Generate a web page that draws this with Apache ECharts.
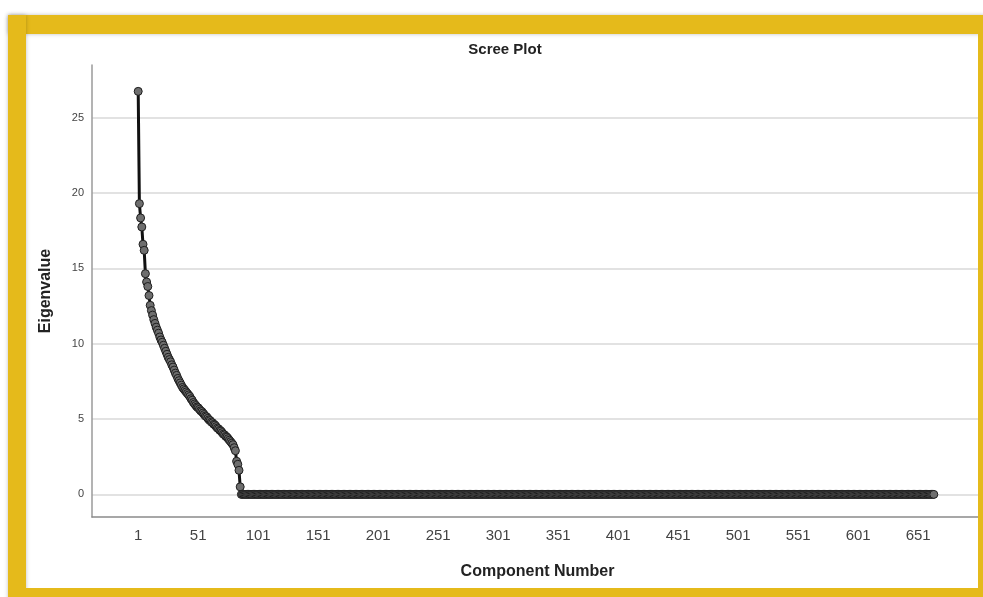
<!DOCTYPE html>
<html>
<head>
<meta charset="utf-8">
<script src="https://cdn.jsdelivr.net/npm/echarts@6/dist/echarts.min.js"></script>
<style>
html,body{margin:0;padding:0;background:#fff;}
#chart{width:983px;height:597px;}
</style>
</head>
<body>
<div id="chart"></div>
<script>
// Eigenvalues for components 1..86
const leadingEigenvalues = [
  26.75, 19.3, 18.35, 17.75, 16.6, 16.2, 14.65, 14.1, 13.8, 13.2,
  12.55, 12.2, 11.9, 11.6, 11.35, 11.1, 10.9, 10.7, 10.45, 10.25,
  10.1, 9.9, 9.7, 9.5, 9.3, 9.1, 8.95, 8.8, 8.6, 8.45,
  8.25, 8.05, 7.9, 7.7, 7.55, 7.4, 7.25, 7.1, 7.0, 6.9,
  6.8, 6.7, 6.6, 6.5, 6.35, 6.25, 6.1, 6.0, 5.9, 5.8,
  5.75, 5.65, 5.55, 5.5, 5.4, 5.3, 5.2, 5.15, 5.05, 4.95,
  4.9, 4.8, 4.75, 4.65, 4.6, 4.5, 4.4, 4.35, 4.25, 4.2,
  4.1, 4.0, 3.95, 3.85, 3.8, 3.7, 3.6, 3.5, 3.4, 3.3,
  3.1, 2.9, 2.2, 2.0, 1.6, 0.5
];
// Eigenvalues for components 87..664 (all read as zero)
const trailingEigenvalues = [
  0,0,0,0,0,0,0,0,0,0,0,0,0,0,0,0,0,0,0,0,0,0,0,0,0,0,0,0,0,0,0,0,0,0,0,0,0,0,0,0,0,0,0,0,0,0,0,0,0,0,
  0,0,0,0,0,0,0,0,0,0,0,0,0,0,0,0,0,0,0,0,0,0,0,0,0,0,0,0,0,0,0,0,0,0,0,0,0,0,0,0,0,0,0,0,0,0,0,0,0,0,
  0,0,0,0,0,0,0,0,0,0,0,0,0,0,0,0,0,0,0,0,0,0,0,0,0,0,0,0,0,0,0,0,0,0,0,0,0,0,0,0,0,0,0,0,0,0,0,0,0,0,
  0,0,0,0,0,0,0,0,0,0,0,0,0,0,0,0,0,0,0,0,0,0,0,0,0,0,0,0,0,0,0,0,0,0,0,0,0,0,0,0,0,0,0,0,0,0,0,0,0,0,
  0,0,0,0,0,0,0,0,0,0,0,0,0,0,0,0,0,0,0,0,0,0,0,0,0,0,0,0,0,0,0,0,0,0,0,0,0,0,0,0,0,0,0,0,0,0,0,0,0,0,
  0,0,0,0,0,0,0,0,0,0,0,0,0,0,0,0,0,0,0,0,0,0,0,0,0,0,0,0,0,0,0,0,0,0,0,0,0,0,0,0,0,0,0,0,0,0,0,0,0,0,
  0,0,0,0,0,0,0,0,0,0,0,0,0,0,0,0,0,0,0,0,0,0,0,0,0,0,0,0,0,0,0,0,0,0,0,0,0,0,0,0,0,0,0,0,0,0,0,0,0,0,
  0,0,0,0,0,0,0,0,0,0,0,0,0,0,0,0,0,0,0,0,0,0,0,0,0,0,0,0,0,0,0,0,0,0,0,0,0,0,0,0,0,0,0,0,0,0,0,0,0,0,
  0,0,0,0,0,0,0,0,0,0,0,0,0,0,0,0,0,0,0,0,0,0,0,0,0,0,0,0,0,0,0,0,0,0,0,0,0,0,0,0,0,0,0,0,0,0,0,0,0,0,
  0,0,0,0,0,0,0,0,0,0,0,0,0,0,0,0,0,0,0,0,0,0,0,0,0,0,0,0,0,0,0,0,0,0,0,0,0,0,0,0,0,0,0,0,0,0,0,0,0,0,
  0,0,0,0,0,0,0,0,0,0,0,0,0,0,0,0,0,0,0,0,0,0,0,0,0,0,0,0,0,0,0,0,0,0,0,0,0,0,0,0,0,0,0,0,0,0,0,0,0,0,
  0,0,0,0,0,0,0,0,0,0,0,0,0,0,0,0,0,0,0,0,0,0,0,0,0,0,0,0
];
const xTickLabels = [1, 51, 101, 151, 201, 251, 301, 351, 401, 451, 501, 551, 601, 651];
const yTickLabels = [0, 5, 10, 15, 20, 25];
const chartTitle = 'Scree Plot';
const xAxisTitle = 'Component Number';
const yAxisTitle = 'Eigenvalue';

const eigenvalues = leadingEigenvalues.concat(trailingEigenvalues);
const points = eigenvalues.map((v, i) => [i + 1, v]);

const FONT = '"Liberation Sans", Arial, sans-serif';
const frameColor = '#E5BA1B';

const chart = echarts.init(document.getElementById('chart'), null, {renderer: 'canvas'});
chart.setOption({
  animation: false,
  backgroundColor: '#ffffff',
  grid: {left: 92, top: 65, width: 891, height: 452, containLabel: false},
  xAxis: {
    type: 'value',
    min: -37.5,
    max: 705,
    name: xAxisTitle,
    nameLocation: 'middle',
    nameGap: 47,
    nameTextStyle: {fontFamily: FONT, fontSize: 16, fontWeight: 'bold', color: '#222'},
    axisLine: {show: true, onZero: false, lineStyle: {color: '#8a8a8a', width: 1.5}},
    axisTick: {show: false, customValues: xTickLabels},
    axisLabel: {customValues: xTickLabels, fontFamily: FONT, fontSize: 15, color: '#444', margin: 11},
    splitLine: {show: false}
  },
  yAxis: {
    type: 'value',
    min: -1.5,
    max: 28.5,
    name: yAxisTitle,
    nameLocation: 'middle',
    nameGap: 38,
    nameRotate: 90,
    nameTextStyle: {fontFamily: FONT, fontSize: 16, fontWeight: 'bold', color: '#222'},
    axisLine: {show: true, onZero: false, lineStyle: {color: '#9a9a9a', width: 1.5}},
    axisTick: {show: false, customValues: yTickLabels},
    axisLabel: {customValues: yTickLabels, fontFamily: FONT, fontSize: 11, color: '#444', margin: 8},
    splitLine: {show: true, lineStyle: {color: '#d8d8d8', width: 1.5}}
  },
  series: [{
    type: 'line',
    data: points,
    symbol: 'circle',
    symbolSize: 8,
    showAllSymbol: true,
    lineStyle: {color: '#111', width: 3},
    itemStyle: {color: '#6e6e6e', borderColor: '#1e1e1e', borderWidth: 1},
    z: 5
  }],
  graphic: [
    {type: 'text', x: 505, y: 50, z: 100,
     style: {text: chartTitle, fontFamily: FONT, fontSize: 15, fontWeight: 'bold', fill: '#222', textAlign: 'center', textVerticalAlign: 'middle'}},
    // yellow picture frame
    {type: 'rect', z: 200, shape: {x: 8, y: 15, width: 990, height: 19}, style: {fill: frameColor, shadowBlur: 4, shadowColor: 'rgba(0,0,0,0.25)'}},
    {type: 'rect', z: 200, shape: {x: 8, y: 15, width: 18, height: 600}, style: {fill: frameColor, shadowBlur: 4, shadowColor: 'rgba(0,0,0,0.25)'}},
    {type: 'rect', z: 200, shape: {x: 978, y: 15, width: 20, height: 600}, style: {fill: frameColor}},
    {type: 'rect', z: 200, shape: {x: 8, y: 588, width: 990, height: 20}, style: {fill: frameColor}}
  ]
});
</script>
</body>
</html>
